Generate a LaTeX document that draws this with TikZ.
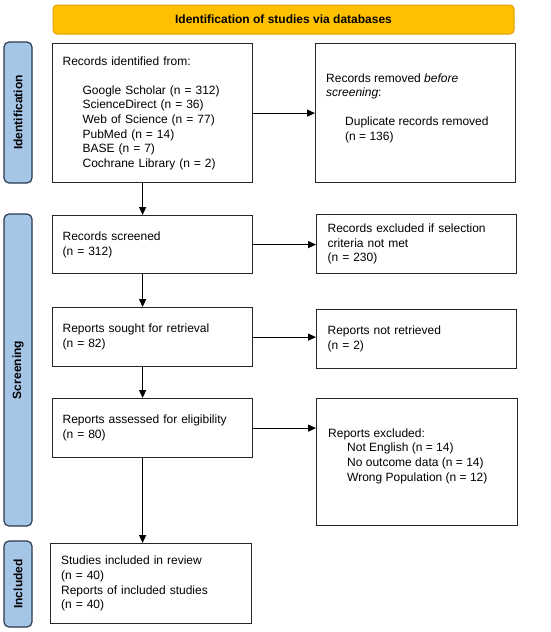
\documentclass[tikz,border=0pt]{standalone}
\usepackage{fontspec}
\setmainfont{Liberation Sans}
\usetikzlibrary{arrows.meta,calc}
\definecolor{bannerfill}{HTML}{FFC000}
\definecolor{bannerdraw}{HTML}{D9A000}
\definecolor{sidefill}{HTML}{A6C6E8}
\definecolor{sidedraw}{HTML}{2B3A4E}
\tikzset{
  txt/.style={font=\fontsize{12pt}{14.6pt}\selectfont},
  box/.style={txt, draw=black!85, line width=1.2pt, rectangle, align=left, inner xsep=10pt, inner ysep=0pt, anchor=north west},
  inbox/.style={txt, align=left, inner sep=0pt, anchor=west},
  banner/.style={draw=bannerdraw, fill=bannerfill, line width=1pt, rounded corners=4pt},
  side/.style={draw=sidedraw, fill=sidefill, line width=1.2pt, rounded corners=5pt},
  sidelbl/.style={font=\fontsize{12pt}{14pt}\selectfont\bfseries, rotate=90},
  arr/.style={line width=1.2pt, -{Triangle[length=8pt,width=7pt]}}
}
\begin{document}
\begin{tikzpicture}[x=1pt,y=-1pt]
\useasboundingbox[fill=white] (0,0) rectangle (550,632);
% banner
\draw[banner] (53,5) rectangle (514,34);
\node[font=\fontsize{12pt}{14pt}\selectfont\bfseries] (ban) at (283.5,19.5) {Identification of studies via databases};
% side labels
\draw[side] (4,42) rectangle (32,183);
\node[sidelbl] (lid) at (18,112.5) {Identification};
\draw[side] (4,214) rectangle (32,526);
\node[sidelbl] (lsc) at (18,370) {Screening};
\draw[side] (4,541) rectangle (32,627);
\node[sidelbl] (lin) at (18,584) {Included};
% boxes
\node[box, text width=180pt, minimum height=139pt] (b1) at (52,43)
 {Records identified from:\\[14.6pt]
  \hspace*{20pt}Google Scholar (n = 312)\\
  \hspace*{20pt}ScienceDirect (n = 36)\\
  \hspace*{20pt}Web of Science (n = 77)\\
  \hspace*{20pt}PubMed (n = 14)\\
  \hspace*{20pt}BASE (n = 7)\\
  \hspace*{20pt}Cochrane Library (n = 2)};
\node[box, minimum width=200pt, minimum height=139pt] (r1) at (315,43) {};
\node[inbox] (r1t) at ([xshift=11pt, yshift=5pt]r1.west)
 {Records removed \emph{before}\\
  \emph{screening}:\\[14.6pt]
  \hspace*{19pt}Duplicate records removed\\
  \hspace*{19pt}(n = 136)};
\node[box, text width=180pt, minimum height=58pt] (b2) at (52,215)
 {Records screened\\(n = 312)};
\node[box, text width=178pt, inner xsep=11pt, minimum height=59pt] (r2) at (316,214)
 {Records excluded if selection\\criteria not met\\(n = 230)};
\node[box, text width=180pt, minimum height=59pt] (b3) at (52,307)
 {Reports sought for retrieval\\(n = 82)};
\node[box, text width=178pt, inner xsep=11pt, minimum height=59pt] (r3) at (316,309)
 {Reports not retrieved\\(n = 2)};
\node[box, text width=180pt, minimum height=59pt] (b4) at (52,398)
 {Reports assessed for eligibility\\(n = 80)};
\node[box, minimum width=201pt, minimum height=127pt] (r4) at (316,398) {};
\node[inbox] (r4t) at ([xshift=12pt, yshift=6pt]r4.west)
 {Reports excluded:\\
  \hspace*{19pt}Not English (n = 14)\\
  \hspace*{19pt}No outcome data (n = 14)\\
  \hspace*{19pt}Wrong Population (n = 12)};
\node[box, text width=180pt, inner xsep=10.5pt, minimum height=80pt] (b5) at (50,543)
 {Studies included in review\\(n = 40)\\Reports of included studies\\(n = 40)};
% arrows
\draw[arr] (b1.east) -- (r1.west);
\draw[arr] (b2.east) -- (b2.east -| r2.west);
\draw[arr] (b3.east) -- (b3.east -| r3.west);
\draw[arr] (b4.east) -- (b4.east -| r4.west);
\draw[arr] ([xshift=-10pt]b1.south) -- ([xshift=-10pt]b1.south |- b2.north);
\draw[arr] ([xshift=-10pt]b2.south) -- ([xshift=-10pt]b2.south |- b3.north);
\draw[arr] ([xshift=-10pt]b3.south) -- ([xshift=-10pt]b3.south |- b4.north);
\draw[arr] ([xshift=-10pt]b4.south) -- ([xshift=-10pt]b4.south |- b5.north);
\end{tikzpicture}
\end{document}
